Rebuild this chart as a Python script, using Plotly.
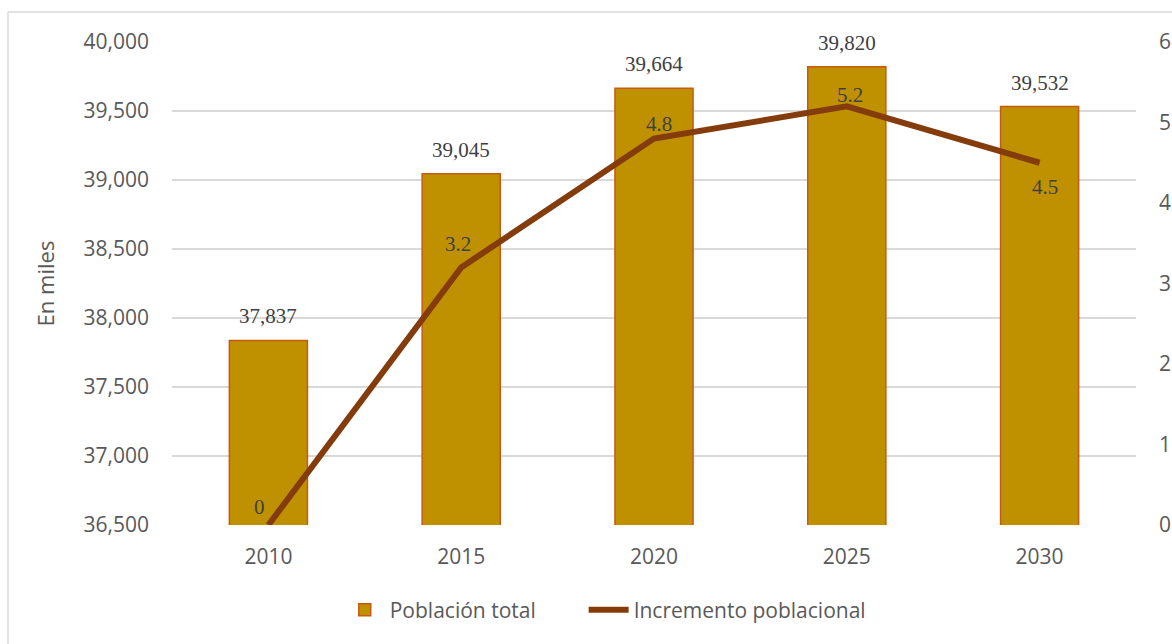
import plotly.graph_objects as go

years = ["2010", "2015", "2020", "2025", "2030"]
poblacion = [37837, 39045, 39664, 39820, 39532]
incremento = [0, 3.2, 4.8, 5.2, 4.5]
y_ticks = [36500, 37000, 37500, 38000, 38500, 39000, 39500, 40000]
y2_ticks = [0, 1, 2, 3, 4, 5, 6]

# label offsets (px) for line labels
line_lbl_dx = [-9, -3, 5, 3, 5]
line_lbl_dy = [18, 23, 15, 11, -24]

W, H = 1172, 644
L, R, T, B = 172, 36, 42, 119
pw, ph = W - L - R, H - T - B

fig = go.Figure()
fig.add_trace(go.Bar(
    x=years, y=poblacion, name="Población total",
    marker=dict(color="#BF9000", line=dict(color="#C55A11", width=1.5)),
    yaxis="y", legend="legend",
))
fig.add_trace(go.Scatter(
    x=years, y=incremento, name="Incremento poblacional",
    mode="lines", line=dict(color="#843C0C", width=6),
    yaxis="y2", legend="legend2",
))

ann = []
for i, v in enumerate(poblacion):
    ann.append(dict(x=i, y=v, xref="x", yref="y", text=f"{v:,}", showarrow=False,
                    yshift=24, font=dict(family="Liberation Serif", size=21, color="#404040")))
for i, (v, dx, dy) in enumerate(zip(incremento, line_lbl_dx, line_lbl_dy)):
    ann.append(dict(x=i, y=v, xref="x", yref="y2", text=f"{v:g}", showarrow=False,
                    xshift=dx, yshift=dy, font=dict(family="Liberation Serif", size=21, color="#404040")))

top_y = (ph + 30) / ph
left_x = (8 - L) / pw
shapes = [
    dict(type="line", xref="paper", yref="paper",
         x0=left_x, x1=(W + 20 - L) / pw, y0=top_y, y1=top_y,
         line=dict(color="#D9D9D9", width=1.5)),
    dict(type="line", xref="paper", yref="paper",
         x0=left_x, x1=left_x, y0=top_y, y1=-(B + 20) / ph,
         line=dict(color="#D9D9D9", width=1.5)),
]

leg_common = dict(orientation="h", y=-0.176, yanchor="middle", xanchor="left",
                  font=dict(size=21, color="#595959"), itemwidth=40)

fig.update_layout(
    width=W, height=H,
    margin=dict(l=L, r=R, t=T, b=B, autoexpand=False),
    paper_bgcolor="white", plot_bgcolor="white",
    font=dict(family="Open Sans", size=20, color="#595959"),
    bargap=0.595,
    xaxis=dict(type="category", range=[-0.5, 4.5], showgrid=False, showline=False, ticks="",
               ticklabelstandoff=17, tickfont=dict(size=21, color="#595959")),
    yaxis=dict(range=[36500, 40000], tickvals=y_ticks, tickformat=",",
               showgrid=True, gridcolor="#D9D9D9", gridwidth=1.5, zeroline=False,
               ticklabelstandoff=22, tickfont=dict(size=21, color="#595959"),
               title=dict(text="En miles", standoff=22, font=dict(size=22, color="#595959"))),
    yaxis2=dict(range=[0, 6], tickvals=y2_ticks, overlaying="y", side="right",
                showgrid=False, zeroline=False, ticklabelstandoff=22,
                tickfont=dict(size=21, color="#595959")),
    legend=dict(x=0.174, **leg_common),
    legend2=dict(x=0.427, **leg_common),
    annotations=ann,
    shapes=shapes,
    showlegend=True,
)

fig.write_html(
    "out.html",
    config={"displayModeBar": False},
    post_script="document.body.style.margin='0';document.body.style.overflow='hidden';",
)
